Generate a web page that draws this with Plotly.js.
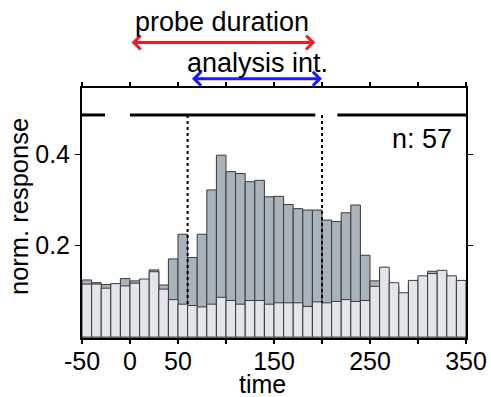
<!DOCTYPE html>
<html>
<head>
<meta charset="utf-8">
<script src="https://cdn.plot.ly/plotly-3.0.1.min.js"></script>
<style>html,body{margin:0;padding:0;background:#fff}#chart{width:491px;height:397px}</style>
</head>
<body>
<div id="chart"></div>
<script>
// bin starts (ms), width 10
const binStart = [-50,-40,-30,-20,-10,0,10,20,30,40,50,60,70,80,90,100,110,120,130,140,150,160,170,180,190,200,210,220,230,240,250,260,270,280,290,300,310,320,330,340];
// response during probe (dark bars)
const response = [0.125,0.119,0.115,0.112,0.128,0.123,0.120,0.147,0.114,0.171,0.225,0.174,0.225,0.322,0.398,0.362,0.358,0.340,0.343,0.307,0.308,0.290,0.281,0.278,0.278,0.256,0.253,0.272,0.289,0.179,0.123,0.140,0.110,0.090,0.115,0.128,0.144,0.140,0.128,0.118];
// baseline (light bars)
const baseline = [0.116,0.116,0.107,0.117,0.112,0.118,0.127,0.143,0.105,0.082,0.072,0.069,0.066,0.072,0.087,0.080,0.072,0.080,0.080,0.072,0.075,0.075,0.075,0.067,0.077,0.075,0.078,0.082,0.078,0.080,0.111,0.153,0.119,0.097,0.124,0.134,0.139,0.146,0.134,0.124];
// stimulus-presence line segments (null = gap)
const stimX = [-50,-26,null,0,193,null,216,350];
const stimLevel = 0.486;
const probeInterval = [0,193];
const analysisInterval = [63,200];
const analysisMarks = [60,200];
const nCells = 57;
const xTickVals = [-50,0,50,100,150,200,250,300,350];
const xTickText = ['-50','0','50','','150','','250','','350'];
const yTickVals = [0.2,0.4];
const yTickText = ['0.2','0.4'];

const binW = 10;
const centers = binStart.map(b => b + binW/2);
const F = 'Liberation Sans, Arial, sans-serif';

const traces = [
  {type:'bar', x:centers, y:response, width:binW, marker:{color:'#a8b3bc', line:{color:'#3a3a3a', width:1}}, hoverinfo:'skip'},
  {type:'bar', x:centers, y:baseline, width:binW, marker:{color:'#e2e5ea', line:{color:'#3a3a3a', width:1}}, hoverinfo:'skip'},
  {type:'scatter', mode:'lines', x:stimX, y:stimX.map(v => v===null?null:stimLevel), line:{color:'#000', width:3}, connectgaps:false, hoverinfo:'skip'}
];

function lightAt(x){ const i = binStart.indexOf(x); return baseline[i]; }

const shapes = analysisMarks.map(xx => ({
  type:'line', xref:'x', yref:'y', x0:xx, x1:xx, y0:stimLevel, y1:lightAt(xx),
  line:{color:'#000', width:2, dash:'dot'}
}));

const annotations = [
  {xref:'x', yref:'paper', x:probeInterval[1], y:1.182, axref:'x', ayref:'pixel', ax:probeInterval[0], ay:0, text:'', showarrow:true, arrowside:'end+start', arrowhead:4, startarrowhead:4, arrowsize:0.9, startarrowsize:0.9, arrowwidth:3, arrowcolor:'#ee1c25'},
  {xref:'x', yref:'paper', x:analysisInterval[1], y:1.037, axref:'x', ayref:'pixel', ax:analysisInterval[0], ay:0, text:'', showarrow:true, arrowside:'end+start', arrowhead:4, startarrowhead:4, arrowsize:0.9, startarrowsize:0.9, arrowwidth:3, arrowcolor:'#1a1aff'},
  {xref:'paper', yref:'paper', x:0.365, y:1.264, text:'probe duration', showarrow:false, font:{family:F, size:27, color:'#000'}, xanchor:'center', yanchor:'middle'},
  {xref:'paper', yref:'paper', x:0.456, y:1.098, text:'analysis int.', showarrow:false, font:{family:F, size:27, color:'#000'}, xanchor:'center', yanchor:'middle'},
  {xref:'paper', yref:'paper', x:0.969, y:0.796, text:'n: ' + nCells, showarrow:false, font:{family:F, size:27, color:'#000'}, xanchor:'right', yanchor:'middle'},
  {xref:'paper', yref:'paper', x:0.470, y:-0.182, text:'time', showarrow:false, font:{family:F, size:25, color:'#000'}, xanchor:'center', yanchor:'middle'},
  {xref:'paper', yref:'paper', x:-0.164, y:0.524, text:'norm. response', textangle:-90, showarrow:false, font:{family:F, size:25.5, color:'#000'}, xanchor:'center', yanchor:'middle'}
];

const layout = {
  width:491, height:397,
  margin:{l:82, r:25, t:88, b:59},
  paper_bgcolor:'#fff', plot_bgcolor:'#fff',
  barmode:'overlay', bargap:0, showlegend:false,
  font:{family:F, size:25, color:'#000'},
  xaxis:{range:[-50,350], tickvals:xTickVals, ticktext:xTickText, ticks:'outside', ticklen:4, tickwidth:1.5, tickcolor:'#000', ticklabelstandoff:-4, showline:true, linecolor:'#000', linewidth:2, mirror:'ticks', showgrid:false, zeroline:false, tickfont:{family:F, size:25}},
  yaxis:{range:[-0.002,0.545], tickvals:yTickVals, ticktext:yTickText, ticks:'outside', ticklen:5, tickwidth:1.5, tickcolor:'#000', showline:true, linecolor:'#000', linewidth:2, mirror:'ticks', showgrid:false, zeroline:false, tickfont:{family:F, size:25}},
  shapes:shapes,
  annotations:annotations
};

Plotly.newPlot('chart', traces, layout, {staticPlot:true, displayModeBar:false});
</script>
</body>
</html>
